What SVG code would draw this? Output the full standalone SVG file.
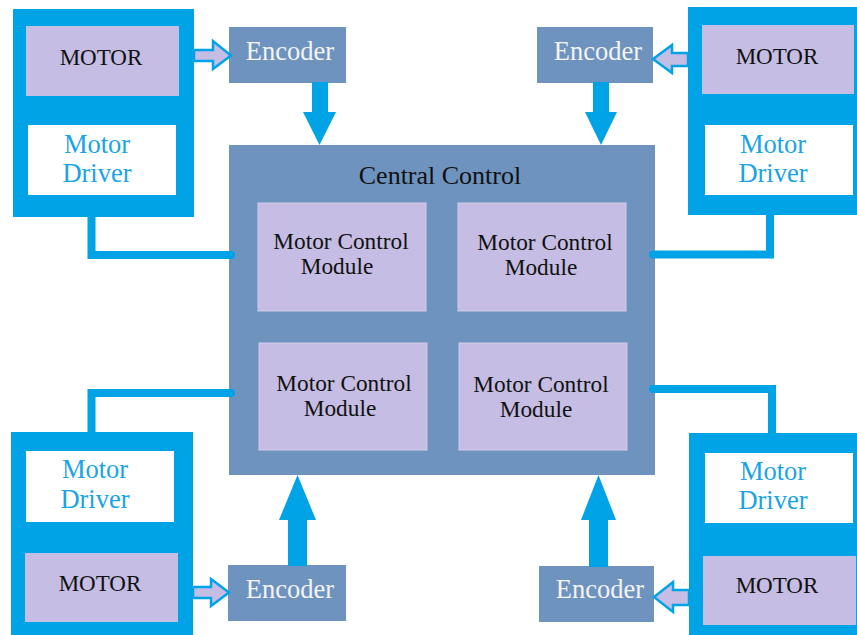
<svg xmlns="http://www.w3.org/2000/svg" width="857" height="635" viewBox="0 0 857 635" font-family="'Liberation Serif', 'DejaVu Serif', serif">
  <style>
    text { font-family: 'Liberation Serif', 'DejaVu Serif', serif; text-anchor: middle; }
    .unit { fill: #00a3e6; }
    .motor { fill: #c5bde3; }
    .driver { fill: #ffffff; }
    .slate { fill: #6f93bf; }
    .module { fill: #c5bde3; stroke: #d2cbea; stroke-width: 1; }
    .t-motor { font-size: 23px; fill: #111111; }
    .t-driver { font-size: 26.5px; fill: #1aa3e8; }
    .t-enc { font-size: 26.5px; fill: #f4f4f4; }
    .t-mod { font-size: 23.3px; fill: #111111; }
    .t-title { font-size: 26px; fill: #111111; }
    .wire { fill: none; stroke: #00a3e6; stroke-width: 8; stroke-linejoin: miter; stroke-linecap: round; }
    .hollow { fill: #c5bde3; stroke: #00a3e6; stroke-width: 2.5; stroke-linejoin: miter; }
    .solid { fill: #00a3e6; }
  </style>

  <!-- central controller with its four motor control modules -->
  <g id="central-control">
    <rect class="slate" x="229" y="145" width="426" height="330"/>
    <text class="t-title" x="440" y="184">Central Control</text>
  </g>
  <g id="module-1">
    <rect class="module" x="258" y="203" width="168" height="108"/>
    <text class="t-mod" x="341" y="249">Motor Control</text>
    <text class="t-mod" x="337" y="274">Module</text>
  </g>
  <g id="module-2">
    <rect class="module" x="458" y="203" width="168" height="108"/>
    <text class="t-mod" x="545" y="250">Motor Control</text>
    <text class="t-mod" x="541" y="275">Module</text>
  </g>
  <g id="module-3">
    <rect class="module" x="259" y="343" width="168" height="107"/>
    <text class="t-mod" x="344" y="391">Motor Control</text>
    <text class="t-mod" x="340" y="416">Module</text>
  </g>
  <g id="module-4">
    <rect class="module" x="459" y="343" width="168" height="107"/>
    <text class="t-mod" x="541" y="392">Motor Control</text>
    <text class="t-mod" x="536" y="417">Module</text>
  </g>

  <!-- motor units: blue frame holding the motor and its driver -->
  <g id="unit-top-left">
    <rect class="unit" x="13" y="9" width="181" height="208"/>
    <rect class="motor" x="26" y="26" width="153" height="70"/>
    <text class="t-motor" x="101" y="65">MOTOR</text>
    <rect class="driver" x="28" y="125" width="148" height="70"/>
    <text class="t-driver" x="97" y="153">Motor</text>
    <text class="t-driver" x="97" y="182">Driver</text>
  </g>
  <g id="unit-top-right">
    <rect class="unit" x="688" y="7" width="180" height="208"/>
    <rect class="motor" x="702" y="25" width="152" height="69"/>
    <text class="t-motor" x="777" y="64">MOTOR</text>
    <rect class="driver" x="705" y="125" width="148" height="70"/>
    <text class="t-driver" x="773" y="153">Motor</text>
    <text class="t-driver" x="773" y="182">Driver</text>
  </g>
  <g id="unit-bottom-left">
    <rect class="unit" x="11" y="432" width="182" height="210"/>
    <rect class="driver" x="26" y="451" width="148" height="71"/>
    <text class="t-driver" x="95" y="478">Motor</text>
    <text class="t-driver" x="95" y="508">Driver</text>
    <rect class="motor" x="25" y="553" width="153" height="69"/>
    <text class="t-motor" x="100" y="591">MOTOR</text>
  </g>
  <g id="unit-bottom-right">
    <rect class="unit" x="689" y="433" width="180" height="210"/>
    <rect class="driver" x="705" y="453" width="148" height="70"/>
    <text class="t-driver" x="773" y="480">Motor</text>
    <text class="t-driver" x="773" y="509">Driver</text>
    <rect class="motor" x="703" y="556" width="153" height="69"/>
    <text class="t-motor" x="777" y="593">MOTOR</text>
  </g>

  <!-- encoders -->
  <g id="encoder-top-left">
    <rect class="slate" x="229" y="27" width="117" height="56"/>
    <text class="t-enc" x="290" y="60">Encoder</text>
  </g>
  <g id="encoder-top-right">
    <rect class="slate" x="537" y="27" width="116" height="56"/>
    <text class="t-enc" x="598" y="60">Encoder</text>
  </g>
  <g id="encoder-bottom-left">
    <rect class="slate" x="228" y="565" width="118" height="56"/>
    <text class="t-enc" x="290" y="598">Encoder</text>
  </g>
  <g id="encoder-bottom-right">
    <rect class="slate" x="539" y="566" width="115" height="56"/>
    <text class="t-enc" x="600" y="598">Encoder</text>
  </g>

  <g id="connectors">
    <!-- driver to central control wiring -->
    <path class="wire" d="M91.5 217 V255 H231"/>
    <path class="wire" d="M770 215 V254.5 H653"/>
    <path class="wire" d="M91.5 432 V393 H231"/>
    <path class="wire" d="M772 433 V389 H653"/>

    <!-- motor to encoder (hollow arrows) -->
    <path class="hollow" d="M194 50 H213 V41 L231 55.5 L213 69 V61 H194 Z"/>
    <path class="hollow" d="M688 53 H672 V45 L653 59 L672 73 V66 H688 Z"/>
    <path class="hollow" d="M193 587 H211 V579 L229 592.5 L211 606 V598 H193 Z"/>
    <path class="hollow" d="M689 590 H673 V582 L654 597 L673 612 V605 H689 Z"/>

    <!-- encoder to central control (solid block arrows) -->
    <path class="solid" d="M312 82 H328 V112 H336 L319.5 145 L303 112 H312 Z"/>
    <path class="solid" d="M593 82 H609 V112 H617 L601 145 L585 112 H593 Z"/>
    <path class="solid" d="M288 566 H307 V520 H316 L297.5 475 L279 520 H288 Z"/>
    <path class="solid" d="M589 567 H608 V520 H616 L598.5 475 L581 520 H589 Z"/>
  </g>
</svg>
